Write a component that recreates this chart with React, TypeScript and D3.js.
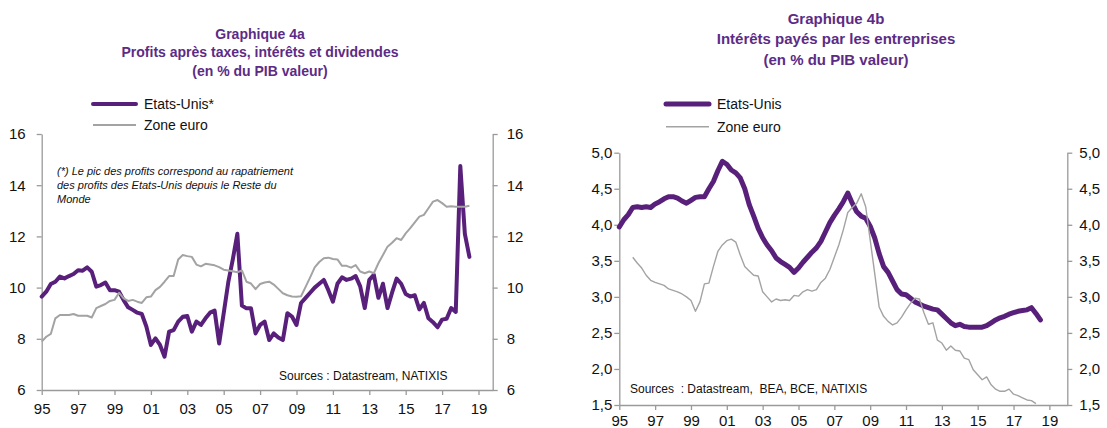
import { useEffect, useRef } from 'react'
import * as d3 from 'd3'

// quarterly series, first point = 1995 Q1
const FIRST_YEAR = 1995

// Graphique 4a : profits après taxes, intérêts et dividendes (% PIB)
const usProfits = [
  9.65, 9.84, 10.14, 10.23, 10.43, 10.36, 10.45, 10.53, 10.68, 10.66, 10.79, 10.62,
  10.04, 10.1, 10.2, 9.9, 9.9, 9.84, 9.51, 9.23, 9.13, 9.02, 8.97, 8.48,
  7.76, 8.02, 7.76, 7.3, 8.28, 8.34, 8.67, 8.86, 8.89, 8.28, 8.67, 8.54,
  8.8, 9.02, 9.1, 7.82, 9.0, 10.2, 11.1, 12.1, 9.3, 9.19, 9.19, 8.21,
  8.54, 8.67, 7.95, 8.21, 8.05, 7.95, 9.0, 8.87, 8.54, 9.4, 9.6, 9.8,
  10.0, 10.15, 10.3, 9.9, 9.45, 10.15, 10.4, 10.3, 10.35, 10.45, 10.05, 9.2,
  10.3, 10.5, 9.6, 10.15, 9.2, 9.8, 10.35, 10.15, 9.75, 9.65, 9.7, 9.15,
  9.4, 8.8, 8.65, 8.45, 8.75, 8.78, 9.2, 9.05, 14.75, 12.1, 11.2,
]
const ezProfits = [
  7.89, 8.08, 8.19, 8.8, 8.93, 8.93, 8.93, 8.97, 8.9, 8.9, 8.9, 8.83,
  9.2, 9.28, 9.36, 9.48, 9.52, 9.8, 9.58, 9.48, 9.52, 9.45, 9.4, 9.62,
  9.65, 9.9, 10.03, 10.23, 10.45, 10.45, 11.1, 11.27, 11.23, 11.2, 10.9, 10.83,
  10.93, 10.9, 10.87, 10.8, 10.7, 10.67, 10.64, 10.6, 10.67, 10.23, 10.16, 9.94,
  10.14, 10.2, 10.23, 10.12, 9.95, 9.78, 9.7, 9.65, 9.64, 9.66, 10.03, 10.4,
  10.79, 11.0, 11.15, 11.17, 11.12, 11.1, 10.85, 10.85, 10.78, 10.88, 10.63, 10.56,
  10.63, 10.56, 10.95, 11.27, 11.6, 11.75, 11.93, 11.86, 12.12, 12.32, 12.55, 12.77,
  12.84, 13.1, 13.36, 13.42, 13.3, 13.16, 13.18, 13.16, 13.16, 13.16, 13.2,
]

// Graphique 4b : intérêts payés par les entreprises (% PIB)
const usInterest = [
  3.97, 4.07, 4.14, 4.24, 4.25, 4.24, 4.25, 4.24, 4.29, 4.32, 4.36, 4.39,
  4.39, 4.37, 4.33, 4.3, 4.34, 4.38, 4.39, 4.39, 4.5, 4.6, 4.75, 4.88,
  4.84, 4.76, 4.72, 4.65, 4.5, 4.28, 4.12, 3.95, 3.82, 3.72, 3.64, 3.54,
  3.49, 3.45, 3.41, 3.34, 3.4, 3.48, 3.55, 3.62, 3.68, 3.77, 3.9, 4.03,
  4.13, 4.22, 4.32, 4.44, 4.3, 4.18, 4.12, 4.09, 3.98, 3.82, 3.6, 3.42,
  3.34, 3.22, 3.1, 3.04, 3.03, 2.98, 2.93, 2.9, 2.87, 2.85, 2.83, 2.82,
  2.76, 2.7, 2.64, 2.6, 2.62, 2.59, 2.58, 2.58, 2.58, 2.58, 2.6, 2.64,
  2.68, 2.71, 2.73, 2.76, 2.78, 2.8, 2.81, 2.82, 2.85, 2.77, 2.68,
]
const ezInterestStart = 3 // 1995 Q4
const ezInterest = [
  3.55, 3.47, 3.4, 3.3, 3.23, 3.2, 3.18, 3.16, 3.11, 3.09, 3.07, 3.04,
  3.0, 2.95, 2.8, 2.93, 3.18, 3.19, 3.42, 3.63, 3.72, 3.78, 3.8, 3.76,
  3.58, 3.42, 3.36, 3.3, 3.29, 3.07, 3.0, 2.93, 2.97, 2.95, 2.96, 2.95,
  3.02, 3.01, 3.07, 3.1, 3.08, 3.1, 3.2, 3.26, 3.38, 3.55, 3.72, 3.93,
  4.17, 4.24, 4.3, 4.43, 4.25, 3.79, 3.33, 2.86, 2.73, 2.66, 2.61, 2.64,
  2.72, 2.82, 2.91, 2.98, 2.97, 2.78, 2.62, 2.64, 2.4, 2.36, 2.26, 2.32,
  2.26, 2.25, 2.15, 2.13, 1.99, 1.92, 1.85, 1.89, 1.78, 1.72, 1.69, 1.69,
  1.72, 1.65, 1.63, 1.6, 1.57, 1.56, 1.52,
]

const yearTicks = d3.range(1995, 2020, 2)
const profitTicks = [6, 8, 10, 12, 14, 16]
const interestTicks = [1.5, 2.0, 2.5, 3.0, 3.5, 4.0, 4.5, 5.0]

const PURPLE_TEXT = '#5c2b86'
const PURPLE_LINE = '#58207a'
const GREY_LINE = '#a3a3a3'
const AXIS = '#9a9a9a'
const FONT = '"Liberation Sans", Arial, sans-serif'

function quarterly(values, offset = 0) {
  return values.map((v, i) => ({ t: FIRST_YEAR + (offset + i) / 4, v }))
}

function drawPanel(svg, p) {
  const g = svg.append('g')
  const x = d3.scaleLinear().domain(p.xDomain).range(p.xRange)
  const y = d3.scaleLinear().domain(p.yDomain).range(p.yRange)

  // titles
  p.title.forEach((t, i) => {
    g.append('text')
      .attr('x', p.titleX).attr('y', p.titleY[i])
      .attr('text-anchor', 'middle')
      .style('font', `bold ${p.titleSize}px ${FONT}`)
      .style('fill', PURPLE_TEXT)
      .text(t)
  })

  // legend
  p.legend.forEach((d, i) => {
    const ly = p.legendY[i]
    g.append('line')
      .attr('x1', p.legendX).attr('x2', p.legendX + 43)
      .attr('y1', ly).attr('y2', ly)
      .attr('stroke', d.color).attr('stroke-width', d.width)
      .attr('stroke-linecap', d.width > 2 ? 'round' : 'butt')
    g.append('text')
      .attr('x', p.legendX + 51).attr('y', ly + 5)
      .style('font', `14px ${FONT}`).style('fill', '#111')
      .text(d.label)
  })

  // axes
  const styleAxis = (a) => {
    a.select('.domain').attr('stroke', AXIS).attr('stroke-width', 1.3)
    a.selectAll('.tick line').attr('stroke', AXIS).attr('stroke-width', 1.3)
    a.selectAll('text').style('font', `15px ${FONT}`).style('fill', '#111')
  }
  const yFmt = p.yFormat
  g.append('g').attr('transform', `translate(${p.xRange[0]},0)`)
    .call(d3.axisLeft(y).tickValues(p.yTicks).tickFormat(yFmt).tickSize(5).tickSizeOuter(0).tickPadding(p.leftPad))
    .call(styleAxis)
  g.append('g').attr('transform', `translate(${p.xRange[1]},0)`)
    .call(d3.axisRight(y).tickValues(p.yTicks).tickFormat(yFmt).tickSize(5).tickSizeOuter(0).tickPadding(p.rightPad))
    .call(styleAxis)
  g.append('g').attr('transform', `translate(0,${p.yRange[0]})`)
    .call(d3.axisBottom(x).tickValues(yearTicks).tickFormat(d => String(d % 100).padStart(2, '0'))
      .tickSize(5).tickSizeOuter(0).tickPadding(p.bottomPad))
    .call(styleAxis)

  // series: US thick purple, euro zone grey on top
  const line = d3.line().x(d => x(d.t)).y(d => y(d.v))
  g.append('path').datum(p.us)
    .attr('d', line).attr('fill', 'none')
    .attr('stroke', PURPLE_LINE).attr('stroke-width', p.usWidth)
    .attr('stroke-linejoin', 'round').attr('stroke-linecap', 'round')
  g.append('path').datum(p.ez)
    .attr('d', line).attr('fill', 'none')
    .attr('stroke', GREY_LINE).attr('stroke-width', p.ezWidth)
    .attr('stroke-linejoin', 'round')

  // notes
  p.notes.forEach(n => {
    g.append('text')
      .attr('x', n.x).attr('y', n.y)
      .style('font', `${n.italic ? 'italic ' : ''}${n.size}px ${FONT}`)
      .style('fill', '#111')
      .attr('xml:space', 'preserve')
      .text(n.text)
  })
}

export default function App() {
  const ref = useRef(null)

  useEffect(() => {
    const svg = d3.select(ref.current)
    svg.selectAll('*').remove()

    drawPanel(svg, {
      xDomain: [1995, 2019.78], xRange: [41.7, 492.7],
      yDomain: [6, 16], yRange: [390, 134],
      yTicks: profitTicks, yFormat: d => String(d),
      leftPad: 11, rightPad: 9, bottomPad: 8,
      title: ['Graphique 4a', 'Profits après taxes, intérêts et dividendes', '(en % du PIB valeur)'],
      titleX: 260, titleY: [38.5, 57, 75.5], titleSize: 14,
      legend: [
        { label: 'Etats-Unis*', color: PURPLE_LINE, width: 4 },
        { label: 'Zone euro', color: GREY_LINE, width: 2 },
      ],
      legendX: 93, legendY: [104, 125],
      us: quarterly(usProfits), ez: quarterly(ezProfits),
      usWidth: 4, ezWidth: 2,
      notes: [
        { text: '(*) Le pic des profits correspond au rapatriement', x: 57, y: 174.5, size: 11, italic: true },
        { text: 'des profits des Etats-Unis depuis le Reste du', x: 57, y: 188.5, size: 11, italic: true },
        { text: 'Monde', x: 57, y: 202.5, size: 11, italic: true },
        { text: 'Sources : Datastream, NATIXIS', x: 279, y: 380, size: 12 },
      ],
    })

    drawPanel(svg, {
      xDomain: [1995, 2020], xRange: [619.3, 1067.3],
      yDomain: [1.5, 5], yRange: [405, 152.7],
      yTicks: interestTicks, yFormat: d => d.toFixed(1).replace('.', ','),
      leftPad: 2, rightPad: 7, bottomPad: 5,
      title: ['Graphique 4b', 'Intérêts payés par les entreprises', '(en % du PIB valeur)'],
      titleX: 836, titleY: [24, 44, 64.5], titleSize: 15,
      legend: [
        { label: 'Etats-Unis', color: PURPLE_LINE, width: 5 },
        { label: 'Zone euro', color: GREY_LINE, width: 1.5 },
      ],
      legendX: 666, legendY: [104, 126.7],
      us: quarterly(usInterest), ez: quarterly(ezInterest, ezInterestStart),
      usWidth: 5, ezWidth: 1.4,
      notes: [
        { text: 'Sources  : Datastream,  BEA, BCE, NATIXIS', x: 630, y: 392.5, size: 12 },
      ],
    })
  }, [])

  return <svg ref={ref} width={1107} height={428} style={{ position: 'absolute', left: 0, top: 0, background: '#fff' }} />
}
